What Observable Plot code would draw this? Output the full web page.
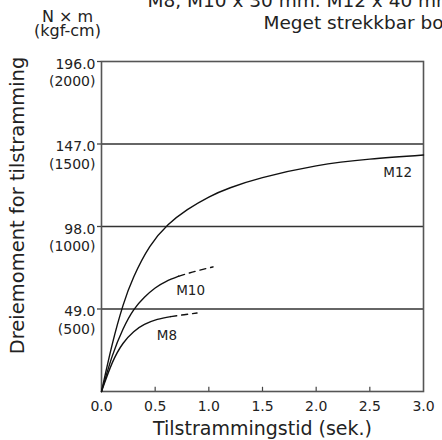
<!DOCTYPE html>
<html><head><meta charset="utf-8">
<script src="https://cdn.jsdelivr.net/npm/d3@7"></script>
<script src="https://cdn.jsdelivr.net/npm/@observablehq/plot@0.6"></script>
<style>html,body{margin:0;padding:0;overflow:hidden;background:#fff}</style>
</head><body><div id="chart"></div>
<script>
// Tick values and labels
const yTicks = [49, 98, 147, 196];
const yTickLabels = ["49.0\n(500)", "98.0\n(1000)", "147.0\n(1500)", "196.0\n(2000)"];
const yGrid = [49, 98, 147];
const xTicks = [0, 0.5, 1.0, 1.5, 2.0, 2.5, 3.0];
const xTickLabels = ["0.0", "0.5", "1.0", "1.5", "2.0", "2.5", "3.0"];
const xInnerTicks = [0.5, 1.0, 1.5, 2.0, 2.5];

// Series: M12 (solid)
const m12Time = [0, 0.1, 0.2, 0.3, 0.45, 0.62, 0.8, 1.0, 1.2, 1.5, 2.0, 2.5, 3.0];
const m12Torque = [0, 28, 51, 68, 86, 99, 108, 115.5, 121, 127, 134, 138, 140.5];
// M10 solid + dashed extension
const m10Time = [0, 0.1, 0.2, 0.3, 0.4, 0.5, 0.6, 0.72];
const m10Torque = [0, 21, 37, 48.5, 56, 61.5, 65.3, 68.5];
const m10DashTime = [0.72, 0.88, 1.04];
const m10DashTorque = [68.5, 71.5, 74];
// M8 solid + dashed extension
const m8Time = [0, 0.1, 0.2, 0.3, 0.4, 0.52, 0.645];
const m8Torque = [0, 17, 28.5, 35.5, 39.8, 42.8, 44.5];
const m8DashTime = [0.645, 0.77, 0.89];
const m8DashTorque = [44.5, 45.6, 46.6];

// Curve labels
const curveNames = ["M12", "M10", "M8"];
const curveLabelTime = [2.76, 0.83, 0.61];
const curveLabelTorque = [129.7, 60, 33.3];

const zip = (t, v) => t.map((d, i) => ({t: d, v: v[i]}));
const labels = curveNames.map((n, i) => ({name: n, t: curveLabelTime[i], v: curveLabelTorque[i]}));

const FONT = "DejaVu Sans, Liberation Sans, sans-serif";
const INK = "#222";

const chart = Plot.plot({
  width: 442,
  height: 440,
  marginLeft: 101,
  marginRight: 19,
  marginTop: 61,
  marginBottom: 49,
  style: {fontFamily: FONT, background: "#fff", color: INK, overflow: "visible"},
  x: {domain: [0, 3], axis: null},
  y: {domain: [0, 196], axis: null},
  marks: [
    Plot.ruleY(yGrid, {stroke: "#333", strokeWidth: 1.3}),
    Plot.ruleX(xInnerTicks, {y1: 0, y2: 2.5, stroke: "#444", strokeWidth: 1.2}),
    Plot.axisY({ticks: yTicks, tickSize: 4, tickFormat: () => "", label: null, stroke: "#444", strokeWidth: 1.3}),
    Plot.frame({stroke: "#555", strokeWidth: 1.6}),
    Plot.text(yTicks, {x: 0, y: d => d, text: (d, i) => yTickLabels[i], textAnchor: "end", lineAnchor: "top", dx: -6, dy: -5, lineHeight: 1.25, fontSize: 14, fill: INK}),
    Plot.text(xTicks, {x: d => d, text: (d, i) => xTickLabels[i], frameAnchor: "bottom", lineAnchor: "bottom", dy: 19, fontSize: 14, fill: INK}),
    Plot.line(zip(m12Time, m12Torque), {x: "t", y: "v", curve: "natural", stroke: "#111", strokeWidth: 1.4}),
    Plot.line(zip(m10Time, m10Torque), {x: "t", y: "v", curve: "natural", stroke: "#111", strokeWidth: 1.4}),
    Plot.line(zip(m10DashTime, m10DashTorque), {x: "t", y: "v", curve: "natural", stroke: "#111", strokeWidth: 1.4, strokeDasharray: "6,5"}),
    Plot.line(zip(m8Time, m8Torque), {x: "t", y: "v", curve: "natural", stroke: "#111", strokeWidth: 1.4}),
    Plot.line(zip(m8DashTime, m8DashTorque), {x: "t", y: "v", curve: "natural", stroke: "#111", strokeWidth: 1.4, strokeDasharray: "6,5"}),
    Plot.text(labels, {x: "t", y: "v", text: "name", fontSize: 13.5, fill: INK}),
    // axis titles
    Plot.text(["Tilstrammingstid (sek.)"], {frameAnchor: "bottom", lineAnchor: "bottom", dy: 43, fontSize: 19, fill: INK}),
    Plot.text(["Dreiemoment for tilstramming"], {frameAnchor: "left", rotate: -90, textAnchor: "middle", lineAnchor: "bottom", dx: -78, dy: -21, fontSize: 19.5, fill: INK}),
    Plot.text(["N \u00d7 m\n(kgf-cm)"], {frameAnchor: "top-left", textAnchor: "middle", lineAnchor: "top", dx: -34, dy: -50, lineHeight: 0.88, fontSize: 16, fill: INK}),
    // header lines (cut off in the original)
    Plot.text(["M8, M10 x 30 mm. M12 x 40 mm"], {frameAnchor: "top-left", textAnchor: "start", lineAnchor: "bottom", dx: 46, dy: -54.3, fontSize: 18.5, fill: INK}),
    Plot.text(["Meget strekkbar bolt"], {frameAnchor: "top-left", textAnchor: "start", lineAnchor: "bottom", dx: 162, dy: -32.7, fontSize: 18.5, fill: INK})
  ]
});
document.getElementById("chart").appendChild(chart);
</script>
</body></html>
